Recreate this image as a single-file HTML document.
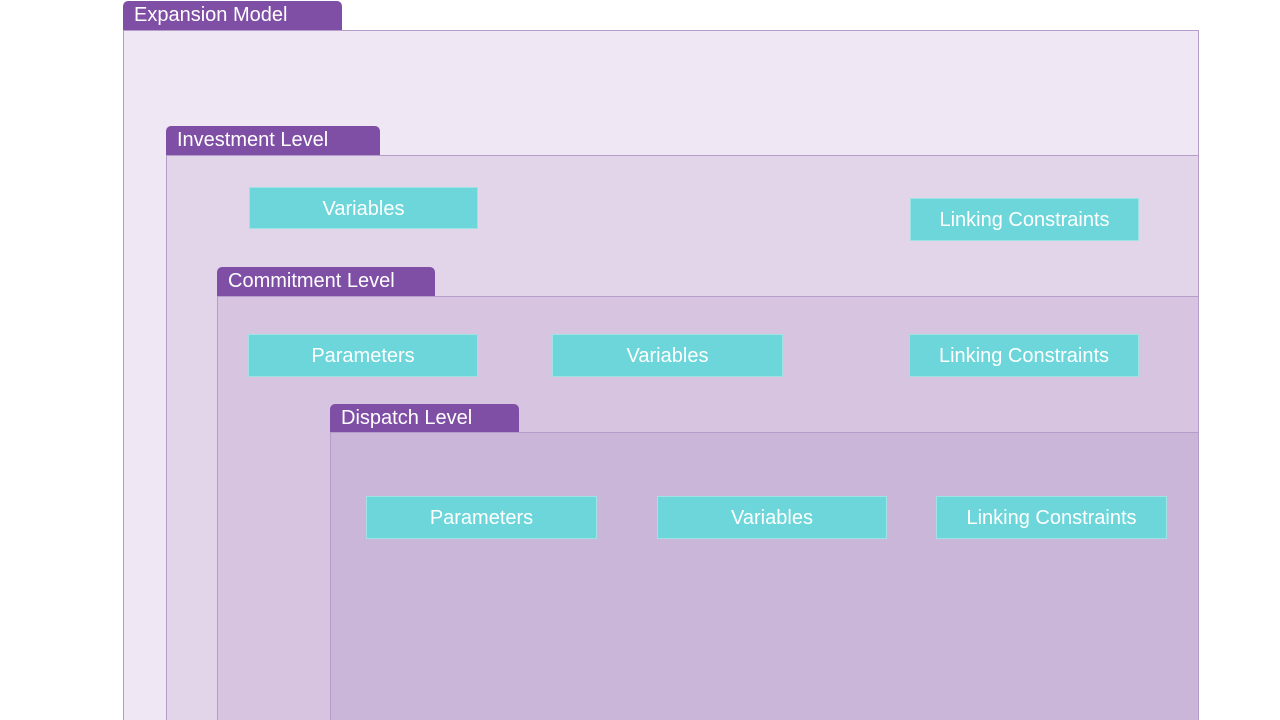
<!DOCTYPE html>
<html style="overflow:hidden;width:1280px;height:720px"><head><style>
body{margin:0;width:1280px;height:720px;background:#fff;position:relative;overflow:hidden;font-family:"Liberation Sans","DejaVu Sans",sans-serif}
.box{position:absolute;border:1px solid #b69cc9;border-bottom:none;box-sizing:border-box}
.tab{position:absolute;background:#7f4fa6;color:#fff;border-radius:5px 5px 0 0;font-size:20px;line-height:29px;padding-left:11px;box-sizing:border-box}
.n{position:absolute;background:#6cd6da;color:#fff;font-size:20px;text-align:center;line-height:42px;border:1px solid #9fe2e4;box-sizing:border-box}
</style></head><body>
<div class="box" style="left:123px;top:30px;width:1076px;height:690px;background:#efe7f3"></div>
<div class="tab" style="left:123px;top:1px;width:219px;height:29px">Expansion Model</div>
<div class="box" style="left:166px;top:155px;width:1033px;height:565px;background:#e2d5e9"></div>
<div class="tab" style="left:166px;top:126px;width:214px;height:29px">Investment Level</div>
<div class="box" style="left:217px;top:296px;width:982px;height:424px;background:#d6c4e0"></div>
<div class="tab" style="left:217px;top:267px;width:218px;height:29px">Commitment Level</div>
<div class="box" style="left:330px;top:432px;width:869px;height:288px;background:#cab6d8"></div>
<div class="tab" style="left:330px;top:404px;width:189px;height:28px">Dispatch Level</div>
<div class="n" style="left:249px;top:187px;width:229px;height:42px">Variables</div>
<div class="n" style="left:910px;top:198px;width:229px;height:43px">Linking Constraints</div>
<div class="n" style="left:248px;top:334px;width:230px;height:43px">Parameters</div>
<div class="n" style="left:552px;top:334px;width:231px;height:43px">Variables</div>
<div class="n" style="left:909px;top:334px;width:230px;height:43px">Linking Constraints</div>
<div class="n" style="left:366px;top:496px;width:231px;height:43px">Parameters</div>
<div class="n" style="left:657px;top:496px;width:230px;height:43px">Variables</div>
<div class="n" style="left:936px;top:496px;width:231px;height:43px">Linking Constraints</div>
</body></html>
